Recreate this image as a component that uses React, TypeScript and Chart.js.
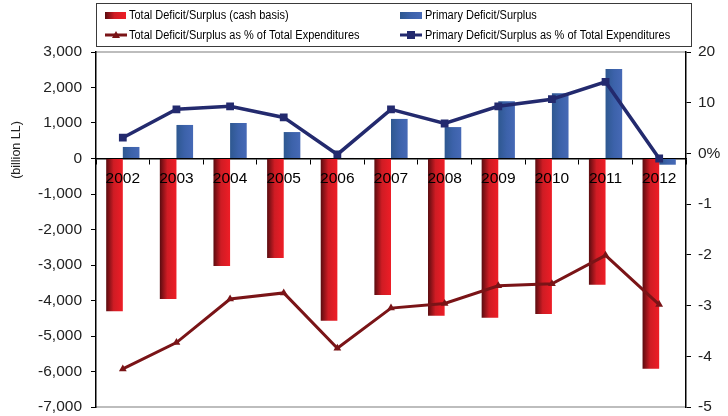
import React, { useEffect, useRef } from "react";
import { Chart, registerables } from "chart.js";

Chart.register(...registerables);

const categories = ["2002", "2003", "2004", "2005", "2006", "2007", "2008", "2009", "2010", "2011", "2012"];
const totalDeficit = [-4300, -3960, -3030, -2800, -4570, -3845, -4430, -4485, -4380, -3555, -5920];
const primaryDeficit = [325, 945, 1000, 745, 15, 1115, 885, 1610, 1835, 2520, -175];
const totalPct = [-42.5, -37.3, -28.7, -27.5, -38.4, -30.5, -29.6, -26.1, -25.7, -20.1, -29.8];
const primaryPct = [3.1, 8.7, 9.3, 7.1, -0.2, 8.7, 5.9, 9.3, 10.7, 14.1, -1.0];

const seriesNames = [
  "Total Deficit/Surplus (cash basis)",
  "Primary Deficit/Surplus",
  "Total Deficit/Surplus as % of Total Expenditures",
  "Primary Deficit/Surplus as % of Total Expenditures",
];
const leftTickValues = [3000, 2000, 1000, 0, -1000, -2000, -3000, -4000, -5000, -6000, -7000];
const rightTickValues = [20, 10, 0, -10, -20, -30, -40, -50];
const rightTickLabels = ["20", "10", "0%", "-1", "-2", "-3", "-4", "-5"];
const axisTitle = "(billion LL)";

const FONT = "'Liberation Sans', Arial, Helvetica, sans-serif";
const CAT_PCT = 0.62;

const RED_LINE = "#7a1417";
const BLUE_LINE = "#232a6e";

function redGradient(ctx: CanvasRenderingContext2D, x0: number, w: number) {
  const g = ctx.createLinearGradient(x0, 0, x0 + w, 0);
  g.addColorStop(0, "#5a0c10");
  g.addColorStop(0.45, "#cf1c24");
  g.addColorStop(1, "#ee1d26");
  return g;
}
function blueGradient(ctx: CanvasRenderingContext2D, x0: number, w: number) {
  const g = ctx.createLinearGradient(x0, 0, x0 + w, 0);
  g.addColorStop(0, "#2e5890");
  g.addColorStop(0.5, "#3c62aa");
  g.addColorStop(1, "#4669b6");
  return g;
}

function barColor(isRed: boolean) {
  return (c: any) => {
    const chart = c.chart;
    const xs = chart.scales && chart.scales.x;
    const area = chart.chartArea;
    if (!xs || !area) return isRed ? "#e01c24" : "#3d62a8";
    const center = xs.getPixelForValue(c.dataIndex);
    const w = ((area.right - area.left) / categories.length) * CAT_PCT / 2;
    const x0 = isRed ? center - w : center;
    return isRed ? redGradient(chart.ctx, x0, w) : blueGradient(chart.ctx, x0, w);
  };
}

const framePlugin = {
  id: "frame",
  beforeDraw(chart: any) {
    const { ctx, chartArea } = chart;
    ctx.save();
    ctx.strokeStyle = "#a8a8a8";
    ctx.lineWidth = 1.5;
    ctx.beginPath();
    ctx.moveTo(chartArea.left, chartArea.top);
    ctx.lineTo(chartArea.right, chartArea.top);
    ctx.moveTo(chartArea.left, chartArea.bottom);
    ctx.lineTo(chartArea.right, chartArea.bottom);
    ctx.stroke();
    ctx.restore();
  },
};

function drawMarker(ctx: CanvasRenderingContext2D, style: string, x: number, y: number, color: string) {
  ctx.fillStyle = color;
  ctx.beginPath();
  if (style === "triangle") {
    ctx.moveTo(x, y - 4);
    ctx.lineTo(x + 4, y + 3);
    ctx.lineTo(x - 4, y + 3);
    ctx.closePath();
  } else {
    ctx.rect(x - 4, y - 4, 8, 8);
  }
  ctx.fill();
}

function condensedText(ctx: CanvasRenderingContext2D, text: string, x: number, y: number, sx: number) {
  ctx.save();
  ctx.translate(x, y);
  ctx.scale(sx, 1);
  ctx.fillText(text, 0, 0);
  ctx.restore();
}

const legendPlugin = {
  id: "customLegend",
  afterDraw(chart: any) {
    const ctx: CanvasRenderingContext2D = chart.ctx;
    ctx.save();
    ctx.strokeStyle = "#3a3a3a";
    ctx.lineWidth = 1;
    ctx.strokeRect(96.5, 3.5, 595, 43);
    ctx.font = `12.5px ${FONT}`;
    ctx.textBaseline = "middle";
    ctx.textAlign = "left";
    const names = chart.data.datasets.map((d: any) => d.label);
    ctx.fillStyle = redGradient(ctx, 105, 21);
    ctx.fillRect(105, 12, 21, 7);
    ctx.fillStyle = blueGradient(ctx, 400, 22);
    ctx.fillRect(400, 12, 22, 7);
    ctx.lineWidth = 3;
    ctx.strokeStyle = RED_LINE;
    ctx.beginPath();
    ctx.moveTo(105, 35);
    ctx.lineTo(127, 35);
    ctx.stroke();
    drawMarker(ctx, "triangle", 116, 35, RED_LINE);
    ctx.strokeStyle = BLUE_LINE;
    ctx.beginPath();
    ctx.moveTo(400, 35);
    ctx.lineTo(422, 35);
    ctx.stroke();
    drawMarker(ctx, "rect", 411, 35, BLUE_LINE);
    ctx.fillStyle = "#000";
    const sx = 0.88;
    condensedText(ctx, names[0], 129, 16, sx);
    condensedText(ctx, names[1], 425, 16, sx);
    condensedText(ctx, names[2], 129, 36, sx);
    condensedText(ctx, names[3], 425, 36, sx);
    ctx.translate(17, 150);
    ctx.rotate(-Math.PI / 2);
    ctx.textAlign = "center";
    ctx.font = `12.5px ${FONT}`;
    ctx.fillStyle = "#222";
    ctx.fillText(axisTitle, 0, 0);
    ctx.restore();
  },
};

export default function App() {
  const ref = useRef<HTMLCanvasElement | null>(null);
  useEffect(() => {
    if (!ref.current) return;
    const chart = new Chart(ref.current, {
      type: "bar",
      data: {
        labels: categories,
        datasets: [
          {
            type: "bar",
            label: seriesNames[0],
            data: totalDeficit,
            backgroundColor: barColor(true),
            yAxisID: "y",
            order: 2,
            categoryPercentage: CAT_PCT,
            barPercentage: 1,
          },
          {
            type: "bar",
            label: seriesNames[1],
            data: primaryDeficit,
            backgroundColor: barColor(false),
            yAxisID: "y",
            order: 2,
            categoryPercentage: CAT_PCT,
            barPercentage: 1,
          },
          {
            type: "line",
            label: seriesNames[2],
            data: totalPct,
            borderColor: RED_LINE,
            backgroundColor: RED_LINE,
            borderWidth: 3,
            pointStyle: "triangle",
            pointRadius: 4.5,
            pointBorderWidth: 0,
            tension: 0,
            yAxisID: "y1",
            order: 0,
          },
          {
            type: "line",
            label: seriesNames[3],
            data: primaryPct,
            borderColor: BLUE_LINE,
            backgroundColor: BLUE_LINE,
            borderWidth: 3.5,
            pointStyle: "rect",
            pointRadius: 5.5,
            pointBorderWidth: 0,
            tension: 0,
            yAxisID: "y1",
            order: 0,
          },
        ] as any,
      },
      options: {
        responsive: false,
        animation: false,
        devicePixelRatio: 1,
        layout: { padding: { top: 52, bottom: 9, left: 0, right: 0 } },
        plugins: { legend: { display: false }, tooltip: { enabled: false } },
        scales: {
          x: {
            type: "category",
            position: { y: 0 } as any,
            offset: true,
            afterFit: (s: any) => {
              s.height = 0;
              s.paddingTop = 0;
              s.paddingBottom = 0;
            },
            grid: { offset: true, drawOnChartArea: false, drawTicks: true, tickLength: 5, color: "#000", lineWidth: 1 },
            border: { color: "#000", width: 1.5 },
            ticks: { z: 1, color: "#000", font: { family: FONT, size: 15.5 }, padding: 6, maxRotation: 0, autoSkip: false },
          },
          y: {
            type: "linear",
            position: "left",
            min: leftTickValues[leftTickValues.length - 1],
            max: leftTickValues[0],
            afterBuildTicks: (s: any) => {
              s.ticks = leftTickValues.map((v) => ({ value: v }));
            },
            afterFit: (s: any) => {
              s.width = 96;
              s.paddingTop = 0;
              s.paddingBottom = 0;
            },
            grid: { drawOnChartArea: false, tickLength: 5, color: "#000" },
            border: { color: "#000", width: 1.5 },
            ticks: {
              color: "#222",
              font: { family: FONT, size: 15.5 },
              padding: 9,
              callback: (v: any) => Number(v).toLocaleString("en-US"),
            },
          },
          y1: {
            type: "linear",
            position: "right",
            min: rightTickValues[rightTickValues.length - 1],
            max: rightTickValues[0],
            afterBuildTicks: (s: any) => {
              s.ticks = rightTickValues.map((v) => ({ value: v }));
            },
            afterFit: (s: any) => {
              s.width = 42;
              s.paddingTop = 0;
              s.paddingBottom = 0;
            },
            grid: { drawOnChartArea: false, tickLength: 5, color: "#000" },
            border: { color: "#000", width: 1.5 },
            ticks: {
              color: "#222",
              font: { family: FONT, size: 15.5 },
              padding: 7,
              callback: (v: any) => {
                const i = rightTickValues.indexOf(Number(v));
                return i >= 0 ? rightTickLabels[i] : "";
              },
            },
          },
        },
      },
      plugins: [framePlugin, legendPlugin],
    });
    return () => chart.destroy();
  }, []);
  return (
    <div style={{ position: "absolute", left: 0, top: 0, width: 728, height: 416, background: "#fff" }}>
      <canvas ref={ref} width={728} height={416} />
    </div>
  );
}
